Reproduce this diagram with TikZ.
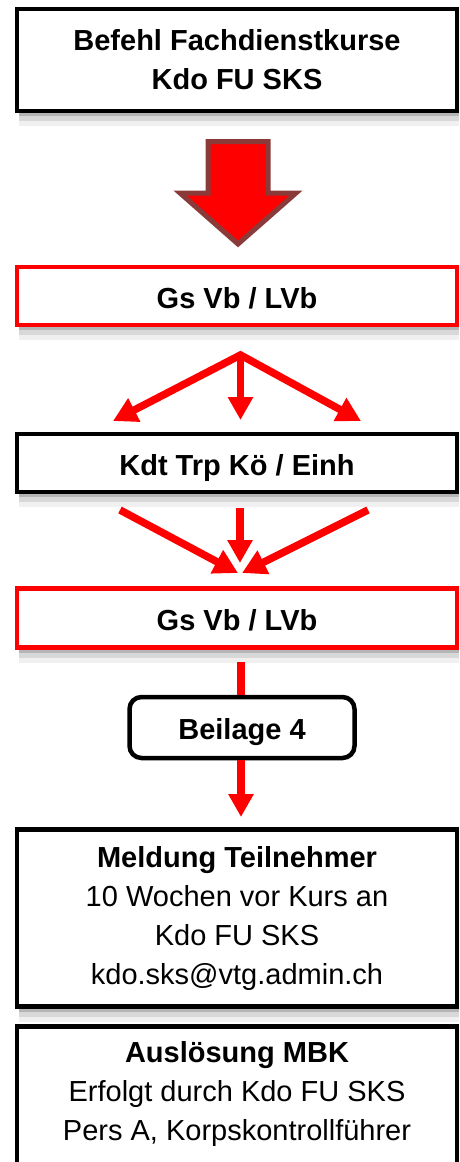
\documentclass[tikz,border=0pt]{standalone}
\usepackage{fontspec}
\setmainfont{Liberation Sans}
\usetikzlibrary{arrows.meta,shadows}
\definecolor{arrowedge}{HTML}{8B3A3A}
\begin{document}
\begin{tikzpicture}[x=1pt,y=-1pt,
  shade/.style={
    drop shadow={shadow xshift=2pt,shadow yshift=-15pt,fill=black,opacity=0.06},
    drop shadow={shadow xshift=2pt,shadow yshift=-10pt,fill=black,opacity=0.10},
    drop shadow={shadow xshift=2pt,shadow yshift=-5pt,fill=black,opacity=0.16}},
  box/.style={draw=black, line width=4.5pt, fill=white, minimum width=440pt,
    inner sep=0pt, align=center, font=\fontsize{29}{39}\selectfont},
  single/.style={text height=24pt, text depth=0pt},
  redbox/.style={box, draw=red},
  txt/.style={align=center, inner sep=0pt, font=\fontsize{29}{39}\selectfont},
  flow/.style={draw=red, line width=7.5pt, -{Triangle[width=24pt,length=23pt]}},
  bigarrow/.style={draw=arrowedge, fill=red, line width=5pt, line join=miter}
]
\useasboundingbox (0,0) rectangle (459,1162);

% boxes
\node[box, shade, minimum height=102pt] (befehl) at (237,60)
  {\textbf{Befehl Fachdienstkurse}\\\textbf{Kdo FU SKS}};
\node[redbox, shade, single, minimum height=58pt] (gs1) at (237,296) {\textbf{Gs Vb / LVb}};
\node[box, shade, single, minimum height=58pt] (kdt) at (237,463) {\textbf{Kdt Trp Kö / Einh}};
\node[redbox, shade, single, minimum height=59pt] (gs2) at (237,618) {\textbf{Gs Vb / LVb}};
\node[box, single, rounded corners=12pt, minimum width=225pt, minimum height=61pt] (beilage)
  at (242,727.5) {\textbf{Beilage 4}};
\node[box, shade, minimum height=177pt] (meldung) at (237,918)
  {\textbf{Meldung Teilnehmer}\\10 Wochen vor Kurs an\\Kdo FU SKS\\kdo.sks@vtg.admin.ch};
\node[box, minimum height=200pt, anchor=north] (ausl) at (237,1024) {};
\node[txt] (ausltext) at (237,1094)
  {\textbf{Auslösung MBK}\\Erfolgt durch Kdo FU SKS\\Pers A, Korpskontrollführer};

% big block arrow
\draw[bigarrow] (208,141.5) -- (268,141.5) -- (268,193) -- (296,193) -- (238,244)
  -- (180,193) -- (208,193) -- cycle;

% fan-out arrows
\coordinate (fan) at (240.5,355);
\coordinate (fl) at (113,421);
\coordinate (fm) at (240.5,420);
\coordinate (fr) at (361,421);
\draw[flow, {Triangle[width=25pt,length=24pt]}-{Triangle[width=25pt,length=24pt]}, line join=miter]
  (fl) -- (fan) -- (fr);
\draw[flow] (fan) -- (fm);

% converging arrows
\coordinate (cl) at (120,510);
\coordinate (tl) at (238,573);
\coordinate (cm) at (240,508);
\coordinate (tm) at (240,563);
\coordinate (cr) at (368,510);
\coordinate (tr) at (242,573);
\draw[flow, -{Triangle[width=25pt,length=24pt]}] (cl) -- (tl);
\draw[flow] (cm) -- (tm);
\draw[flow, -{Triangle[width=25pt,length=24pt]}] (cr) -- (tr);

% line to Beilage and arrow to Meldung
\coordinate (gsout) at (241,662);
\draw[draw=red, line width=7.5pt] (gsout) -- (beilage.north -| gsout);
\coordinate (meldin) at (241,817);
\draw[flow] (beilage.south -| meldin) -- (meldin);
\end{tikzpicture}
\end{document}
